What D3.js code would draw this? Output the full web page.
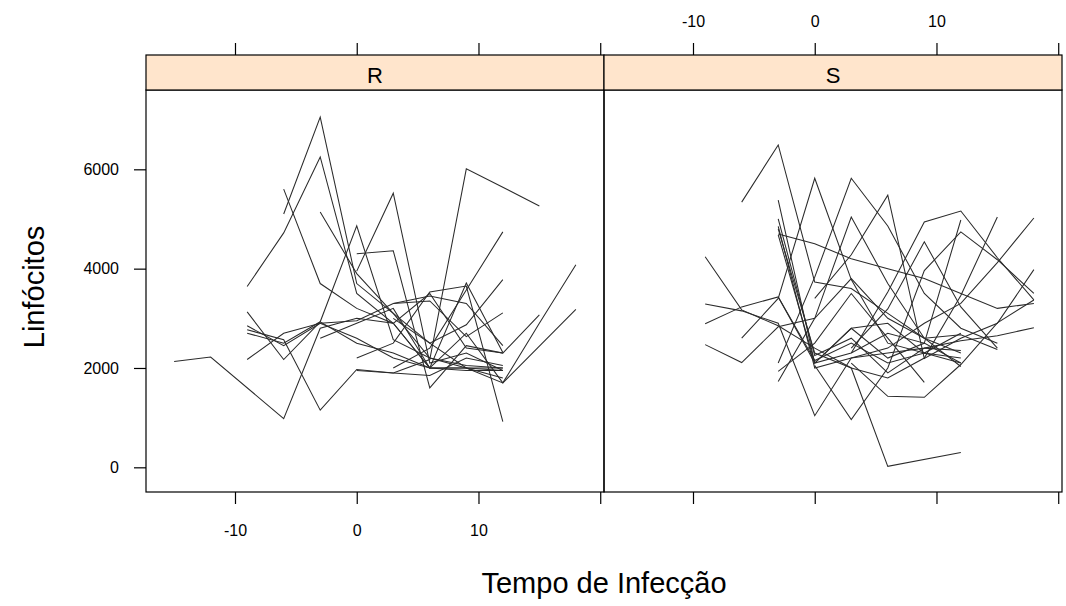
<!DOCTYPE html>
<html>
<head>
<meta charset="utf-8">
<script src="https://cdn.jsdelivr.net/npm/d3@7/dist/d3.min.js"></script>
<style>
  html, body { margin: 0; padding: 0; background: #fff; }
  svg text { font-family: "Liberation Sans", Arial, sans-serif; fill: #000; }
</style>
</head>
<body>
<svg id="chart" width="1066" height="606"></svg>
<script>
// Weeks relative to infection, shared by every subject
const weeks = [-15, -12, -9, -6, -3, 0, 3, 6, 9, 12, 15, 18];

// Lymphocyte counts per subject, group R (null = no visit)
const groupR = [
  [2130, 2220, null, 980, 2800, 3000, 2900, 2000, 1950, 1950, null, null],
  [null, null, null, 5100, 7050, 3700, 3100, 2200, 2000, 1700, 2900, 4080],
  [null, null, 3640, 4720, 6250, 3500, 2900, 2000, 2000, 2000, null, null],
  [null, null, null, 5600, 3700, 3200, 2900, 3500, 2400, 2300, null, null],
  [null, null, 2850, 2450, 2900, 2950, 3300, 3450, 3300, 2450, null, null],
  [null, null, null, null, 5140, 3900, 3100, 2500, 2000, 1800, null, null],
  [null, null, 2700, 2500, 2930, 4860, 2570, 2200, 2050, 2000, null, null],
  [null, null, null, null, null, 3950, 5520, 2100, 2300, 1950, null, null],
  [null, null, null, null, null, 4300, 4360, 1600, 2450, 2300, 3070, null],
  [null, null, null, null, null, 1950, 1900, 2170, 6010, 5640, 5260, null],
  [null, null, null, null, null, null, 2000, 2400, 3570, 4740, null, null],
  [null, null, 2170, 2700, 2900, 2600, 2200, 2000, 2700, 1700, null, 3180],
  [null, null, 3130, 2170, 2930, 2500, 2300, 2000, 2000, 1950, null, null],
  [null, null, 2770, 2570, 1150, 1970, 1900, 1850, 2200, 2050, null, null],
  [null, null, null, null, null, 2200, 2500, 3530, 3650, 920, null, null],
  [null, null, null, null, null, null, 3000, 2500, 2870, 3780, null, null],
  [null, null, null, null, null, null, 3300, 3350, 2630, 3110, null, null],
  [null, null, null, null, 2600, 2900, 3200, 2000, 3710, 2310, null, null]
];

// Lymphocyte counts per subject, group S (null = no visit)
const groupS = [
  [null, null, 4240, 3170, 2850, 2400, 2000, 20, null, 300, null, null],
  [null, null, 3290, 3150, 2900, 1040, 2200, 2300, 2400, 2550, 2650, 2810],
  [null, null, 2890, 3230, 3430, 2100, 2800, 2900, 2300, 2700, null, null],
  [null, null, 2470, 2110, 2830, 3000, 3800, 3000, 2600, 2670, 2370, null],
  [null, null, null, 5340, 6490, 3730, 3600, 3100, 2600, 2300, null, null],
  [null, null, null, null, 5380, 2100, 2800, 2200, 2500, 2100, null, null],
  [null, null, null, null, 4700, 4500, 4200, 4000, 3800, 3500, 3200, 3300],
  [null, null, null, 2600, 3400, 5820, 3780, 2500, 2300, 2100, null, null],
  [null, null, null, null, 2100, 3830, 5820, 4860, 3500, 2800, 2500, null],
  [null, null, null, null, 1730, 3000, 5040, 3700, 2600, 2030, null, null],
  [null, null, null, null, null, 3400, 4280, 5480, 2190, 2600, 2900, 3980],
  [null, null, null, null, null, null, 2400, 3190, 4540, 3230, 2400, null],
  [null, null, null, null, null, null, 2300, 3530, 4940, 5160, 4220, 3370],
  [null, null, null, null, 4850, 2000, 2200, 2400, 2900, 3300, 4120, 5020],
  [null, null, null, null, 4800, 2300, 2000, 1800, 2200, 3460, 5040, null],
  [null, null, null, null, null, 2050, 960, 2000, 3960, 4740, 4180, 3500],
  [null, null, null, null, 1930, 2500, 3500, 2600, 1710, null, null, null],
  [null, null, null, null, null, null, 2100, 1430, 1410, 2070, 2910, 3370],
  [null, null, null, null, 4680, 2100, 2300, 2700, 2500, 4980, null, null],
  [null, null, null, null, 3430, 2150, 2500, 2100, 2300, 2200, null, null],
  [null, null, null, null, 5000, 2250, 2600, 1900, 2400, 2350, null, null]
];

const panels = [
  { name: "R", series: groupR },
  { name: "S", series: groupS }
];

const xTicks = [-10, 0, 10, 20];
const xTickLabels = ["-10", "0", "10", ""];
const yTicks = [0, 2000, 4000, 6000];

const svg = d3.select("#chart");
const panelTop = 90, panelBottom = 492, stripTop = 55;
const panelLefts = [146, 604];
const panelWidth = 458;
const tickLen = 12;
const tickFont = "16px";

const x0 = d3.scaleLinear().domain([-17.31, 20.31]).range([0, panelWidth]);
const y = d3.scaleLinear().domain([-497, 7597]).range([panelBottom, panelTop]);

const line = d3.line()
  .x(d => d.xs)
  .y(d => y(d.v));

function styleAxis(ax) {
  ax.select(".domain").remove();
  ax.selectAll(".tick line").attr("stroke", "#000").attr("stroke-width", 1.2);
  ax.selectAll(".tick text")
    .style("font-family", "'Liberation Sans', Arial, sans-serif")
    .style("font-size", tickFont).attr("fill", "#000");
}

panels.forEach((p, i) => {
  const left = panelLefts[i];
  const x = x0.copy().range([left, left + panelWidth]);
  const g = svg.append("g");

  // subject trajectories
  p.series.forEach(vals => {
    const pts = weeks
      .map((w, k) => ({ xs: x(w), v: vals[k] }))
      .filter(d => d.v !== null);
    g.append("path")
      .attr("d", line(pts))
      .attr("fill", "none")
      .attr("stroke", "#2b2b2b")
      .attr("stroke-width", 1.05);
  });

  // panel border
  g.append("rect")
    .attr("x", left).attr("y", panelTop)
    .attr("width", panelWidth).attr("height", panelBottom - panelTop)
    .attr("fill", "none").attr("stroke", "#000").attr("stroke-width", 1.2);

  // strip
  g.append("rect")
    .attr("x", left).attr("y", stripTop)
    .attr("width", panelWidth).attr("height", panelTop - stripTop)
    .attr("fill", "#ffe5cc").attr("stroke", "#000").attr("stroke-width", 1.2);
  g.append("text")
    .attr("x", left + panelWidth / 2).attr("y", stripTop + 28)
    .attr("text-anchor", "middle")
    .style("font-size", "22px")
    .text(p.name);

  // bottom axis: labels only on the first panel
  const bottomAxis = d3.axisBottom(x).tickValues(xTicks)
    .tickSize(tickLen).tickPadding(21)
    .tickFormat((d, k) => i === 0 ? xTickLabels[k] : "");
  styleAxis(svg.append("g").attr("transform", `translate(0,${panelBottom})`).call(bottomAxis));

  // top axis: labels only on the second panel
  const topAxis = d3.axisTop(x).tickValues(xTicks)
    .tickSize(tickLen).tickPadding(16)
    .tickFormat((d, k) => i === 1 ? xTickLabels[k] : "");
  styleAxis(svg.append("g").attr("transform", `translate(0,${stripTop})`).call(topAxis));
});

// left axis
const leftAxis = d3.axisLeft(y).tickValues(yTicks).tickSize(tickLen).tickPadding(15)
  .tickFormat(d3.format("d"));
styleAxis(svg.append("g").attr("transform", `translate(${panelLefts[0]},0)`).call(leftAxis));

// axis titles
svg.append("text")
  .attr("x", 604).attr("y", 593)
  .attr("text-anchor", "middle")
  .style("font-size", "29px")
  .text("Tempo de Infecção");

svg.append("text")
  .attr("transform", "translate(44,287) rotate(-90)")
  .attr("text-anchor", "middle")
  .style("font-size", "29px")
  .text("Linfócitos");
</script>
</body>
</html>
